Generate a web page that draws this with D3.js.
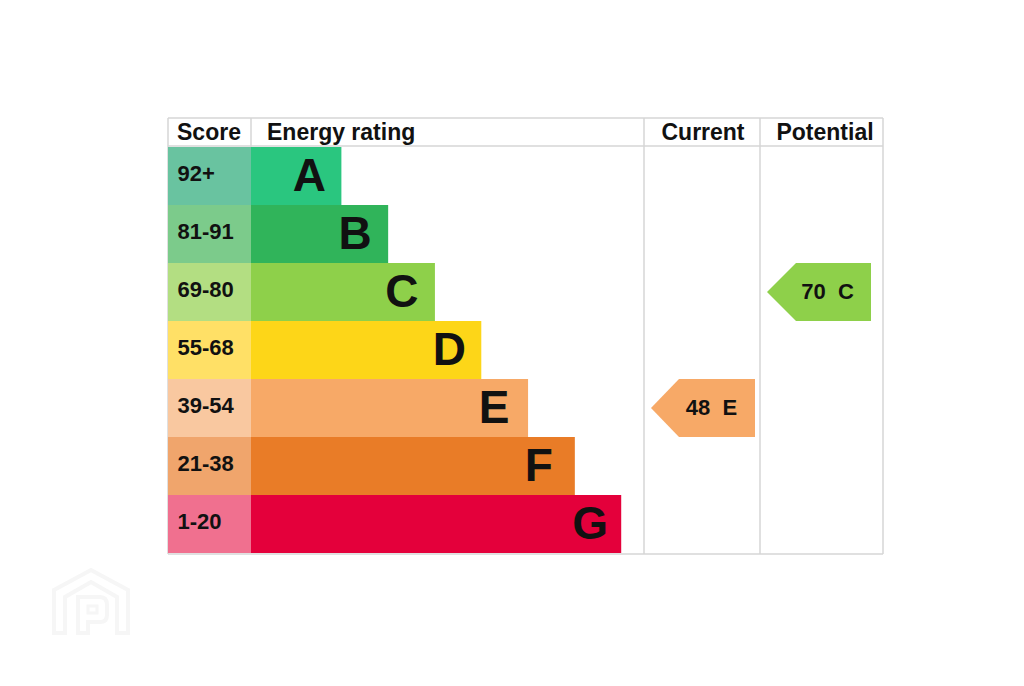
<!DOCTYPE html>
<html>
<head>
<meta charset="utf-8">
<script src="https://cdn.jsdelivr.net/npm/d3@7"></script>
<style>
  html, body { margin: 0; padding: 0; background: #fff; }
  svg { display: block; }
  text { font-family: "Liberation Sans", Arial, sans-serif; font-weight: bold; fill: #111; }
</style>
</head>
<body>
<div class="root"></div>
<script>
const width = 1024;
const height = 686;

// chart values
const ratings = ["A", "B", "C", "D", "E", "F", "G"];
const scores = ["92+", "81-91", "69-80", "55-68", "39-54", "21-38", "1-20"];
const barLengths = [23.0, 34.9, 46.8, 58.6, 70.5, 82.4, 94.2]; // % of the rating column
const barColors = ["#2ac67f", "#30b45a", "#8ed04a", "#fdd618", "#f7a967", "#e97c27", "#e4003b"];
const scoreColors = ["#69c3a0", "#7ccb8b", "#b3de82", "#ffe066", "#f9c8a0", "#f0a56c", "#f0708f"];
const headers = ["Score", "Energy rating", "Current", "Potential"];
const currentRating = { score: 48, rating: "E" };
const potentialRating = { score: 70, rating: "C" };

const svg = d3
  .select(".root")
  .append("svg")
  .attr("width", width)
  .attr("height", height);

const left = 168;
const scoreRight = 251;
const ratingRight = 644;
const currentRight = 760;
const right = 883;
const top_ = 118;
const headTop = 147;
const bottom = 553;

const y = d3.scaleBand().domain(ratings).range([headTop, bottom]);
const x = d3.scaleLinear().domain([0, 100]).range([scoreRight, ratingRight]);

// watermark
const mark = svg.append("g").attr("fill", "none").attr("stroke", "#f6f6f6").attr("stroke-width", 4);
mark.append("path").attr("d", "M54 633V590L91 570L128 590V633H117V597L91 582L65 597V633Z");
mark.append("path").attr("d", "M78 633V597H100Q107 597 107 605V615Q107 622 100 622H88V633Z");
mark.append("path").attr("d", "M88 606H97V613H88Z").attr("stroke-width", 3);

// grid lines
const gridColor = "#d6d6d6";
const gridLines = [
  [left, top_, right, top_],
  [left, 146, right, 146],
  [left, 554, right, 554],
  [left, top_, left, 554],
  [scoreRight, top_, scoreRight, 147],
  [ratingRight, top_, ratingRight, 554],
  [currentRight, top_, currentRight, 554],
  [right, top_, right, 554],
];
svg
  .selectAll("line.grid")
  .data(gridLines)
  .join("line")
  .attr("class", "grid")
  .attr("x1", (d) => d[0])
  .attr("y1", (d) => d[1])
  .attr("x2", (d) => d[2])
  .attr("y2", (d) => d[3])
  .attr("stroke", gridColor)
  .attr("stroke-width", 1.5);

// score cells
svg
  .selectAll("rect.score")
  .data(ratings)
  .join("rect")
  .attr("class", "score")
  .attr("x", left)
  .attr("y", (d) => y(d))
  .attr("width", scoreRight - left)
  .attr("height", y.bandwidth())
  .attr("fill", (d, i) => scoreColors[i]);

svg
  .selectAll("text.score")
  .data(ratings)
  .join("text")
  .attr("class", "score")
  .attr("x", 177.5)
  .attr("y", (d) => y(d) + y.bandwidth() / 2 + 4.5)
  .attr("font-size", 22)
  .text((d, i) => scores[i]);

// rating bars
svg
  .selectAll("rect.bar")
  .data(ratings)
  .join("rect")
  .attr("class", "bar")
  .attr("x", x(0))
  .attr("y", (d) => y(d))
  .attr("width", (d, i) => x(barLengths[i]) - x(0))
  .attr("height", y.bandwidth())
  .attr("fill", (d, i) => barColors[i]);

// the letters don't sit at an even distance from the bar ends
const letterShift = [0, -1, -1, 0, -2, -4, 1];
svg
  .selectAll("text.letter")
  .data(ratings)
  .join("text")
  .attr("class", "letter")
  .attr("x", (d, i) => x(barLengths[i]) - 32 + letterShift[i])
  .attr("y", (d) => y(d) + y.bandwidth() / 2 + 15)
  .attr("text-anchor", "middle")
  .attr("font-size", 46)
  .text((d) => d);

// headers
const headerX = [177, 267, 703, 825];
svg
  .selectAll("text.head")
  .data(headers)
  .join("text")
  .attr("class", "head")
  .attr("x", (d, i) => headerX[i])
  .attr("y", 140)
  .attr("text-anchor", (d, i) => (i < 2 ? "start" : "middle"))
  .attr("font-size", 23)
  .text((d) => d);

// current / potential arrows
function drawArrow(d, tip, shoulder, end) {
  const top = y(d.rating);
  const bot = top + y.bandwidth();
  const mid = top + y.bandwidth() / 2;
  const color = barColors[ratings.indexOf(d.rating)];
  svg
    .append("path")
    .attr("d", `M${tip} ${mid}L${shoulder} ${top}H${end}V${bot}H${shoulder}Z`)
    .attr("fill", color);
  svg
    .append("text")
    .attr("x", end - 43.5)
    .attr("y", mid + 7)
    .attr("text-anchor", "middle")
    .attr("font-size", 22)
    .style("white-space", "pre")
    .text(`${d.score}  ${d.rating}`);
}
drawArrow(currentRating, 651, 679, 755);
drawArrow(potentialRating, 767, 796, 871);
</script>
</body>
</html>
